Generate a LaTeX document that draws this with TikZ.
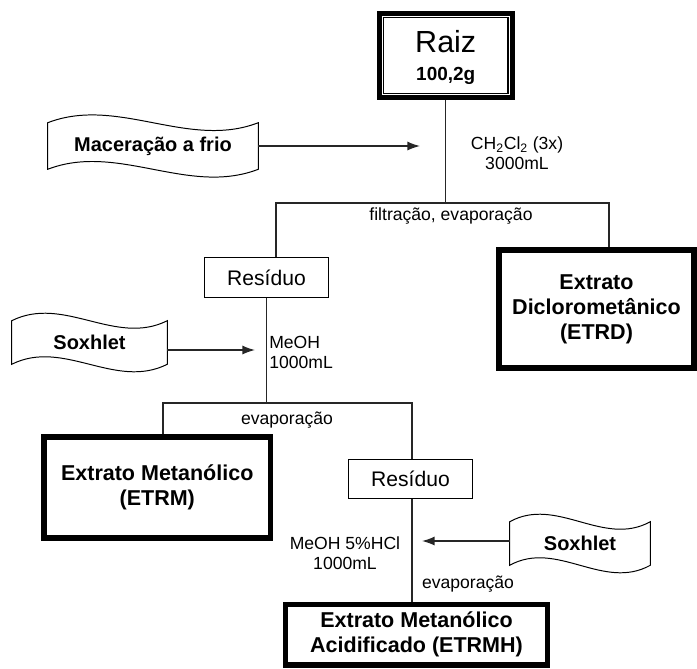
\documentclass[tikz,border=0pt]{standalone}
\usepackage{fontspec}
\setmainfont{Liberation Sans}
\usetikzlibrary{arrows.meta}

\tikzset{
  caixa/.style={draw, line width=0.9pt, minimum width=31mm, minimum height=9.9mm, inner sep=0pt, font=\fontsize{15}{18}\selectfont},
  extrato/.style={draw, line width=3.7pt, inner sep=0pt, align=center, font=\bfseries\fontsize{15.3}{17.8}\selectfont},
  fita/.style={inner sep=0pt, font=\bfseries\fontsize{14.2}{17}\selectfont},
  borda/.style={line width=0.7pt},
  linha/.style={line width=1pt, black!85},
  seta/.style={linha, -{Latex[length=9pt,width=6.5pt]}},
  rotulo/.style={inner sep=0pt, align=center, font=\fontsize{12.5}{14.2}\selectfont}
}

\begin{document}
\begin{tikzpicture}[x=0.25mm, y=-0.25mm]
  \useasboundingbox (0,0) rectangle (697,668);
  % raiz
  \node[draw, line width=3.2pt, minimum width=33.25mm, minimum height=21mm, inner sep=0pt, align=center, text depth=0pt, font=\fontsize{13.5}{19.9}\selectfont] (raiz) at (445.75,55.5) {{\fontsize{21.7}{26}\selectfont Raiz}\\\textbf{100,2g}};
  \draw[line width=0.8pt] ([shift={(6.5,6.5)}]raiz.north west) rectangle ([shift={(-6.5,-6.5)}]raiz.south east);

  % first extraction
  \node[fita, minimum width=52.5mm, minimum height=11.5mm] (mac) at (153,146) {Maceração a frio};
  \draw[borda] (mac.north west) .. controls +(70,-27) and +(-70,27) .. (mac.north east) -- (mac.south east) .. controls +(-70,27) and +(70,-27) .. (mac.south west) -- cycle;
  \coordinate (a1) at (420,146);
  \draw[seta] (mac.east) -- (a1);
  \node[rotulo] (ch) at (517,153) {CH\textsubscript{2}Cl\textsubscript{2} (3x)\\3000mL};
  \coordinate (h1l) at (276,203);
  \coordinate (h1r) at (609,203);
  \draw[linha] (raiz.south) -- (raiz.south |- h1l);
  \node[rotulo] (filt) at (451,216) {filtração, evaporação};
  \node[caixa] (res1) at (266.5,277.5) {Resíduo};
  \node[extrato, line width=4.3pt, minimum width=48.75mm, minimum height=29.5mm] (etrd) at (596.5,309) {Extrato\\Diclorometânico\\(ETRD)};
  \draw[linha] (res1.north -| h1l) -- (h1l) -- (h1r) -- (etrd.north -| h1r);

  % second extraction
  \node[fita, minimum width=38.75mm, minimum height=10.75mm] (sox1) at (89.5,342.5) {Soxhlet};
  \draw[borda] (sox1.north west) .. controls +(52,-26) and +(-52,26) .. (sox1.north east) -- (sox1.south east) .. controls +(-52,26) and +(52,-26) .. (sox1.south west) -- cycle;
  \coordinate (a2) at (255,350);
  \draw[seta] (sox1.east |- a2) -- (a2);
  \node[rotulo, anchor=west, align=left] (meoh1) at (269,352) {MeOH\\1000mL};
  \coordinate (h2l) at (163,403);
  \coordinate (h2r) at (412,403);
  \draw[linha] (res1.south) -- (res1.south |- h2l);
  \node[rotulo] (evap1) at (287,420) {evaporação};
  \node[extrato, minimum width=56.6mm, minimum height=25.25mm] (etrm) at (157.25,487.5) {Extrato Metanólico\\(ETRM)};
  \node[caixa] (res2) at (410.5,479) {Resíduo};
  \draw[linha] (etrm.north -| h2l) -- (h2l) -- (h2r) -- (res2.north -| h2r);

  % third extraction
  \node[fita, minimum width=35mm, minimum height=10.75mm] (sox2) at (580,543.5) {Soxhlet};
  \draw[borda] (sox2.north west) .. controls +(47,-26) and +(-47,26) .. (sox2.north east) -- (sox2.south east) .. controls +(-47,26) and +(47,-26) .. (sox2.south west) -- cycle;
  \coordinate (a3) at (422,541);
  \draw[seta] (sox2.west |- a3) -- (a3);
  \node[rotulo] (meoh2) at (345,553) {MeOH 5\%HCl\\1000mL};
  \node[rotulo] (evap2) at (468,584) {evaporação};
  \node[extrato, minimum width=65.5mm, minimum height=15.1mm] (etrmh) at (416.5,634.75) {Extrato Metanólico\\Acidificado (ETRMH)};
  \draw[linha] (res2.south -| h2r) -- (etrmh.north -| h2r);
\end{tikzpicture}
\end{document}
